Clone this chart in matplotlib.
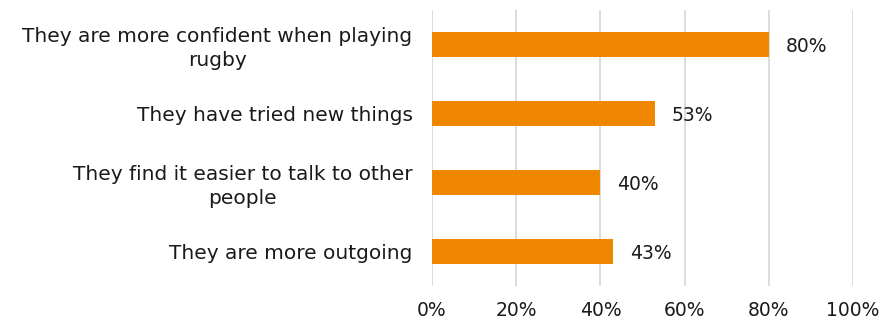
import matplotlib
matplotlib.use("Agg")
import matplotlib.pyplot as plt
from matplotlib.ticker import PercentFormatter

# Survey responses (share of respondents)
labels = [
    "They are more confident when playing\nrugby",
    "They have tried new things",
    "They find it easier to talk to other\npeople",
    "They are more outgoing",
]
values = [80, 53, 40, 43]
xticks = [0, 20, 40, 60, 80, 100]

plt.rcParams['font.family'] = ['DejaVu Sans']

fig = plt.figure(figsize=(8.84, 3.2), dpi=100)
ax = fig.add_axes([0.4887, 0.10625, 0.4763, 0.8625])

pos = list(range(len(labels)))
ax.barh(pos, values, height=0.35, color='#F08700', zorder=3)

for p, v in zip(pos, values):
    ax.text(v + 4, p + 0.03, f"{v}%", va='center', ha='left', fontsize=13.5, color='#1a1a1a')

ax.set_ylim(len(labels) - 0.5, -0.5)
ax.set_xlim(0, 100)
ax.set_yticks(pos)
ax.set_yticklabels(labels, fontsize=14.5, color='#1a1a1a', ha='right',
                   multialignment='center', linespacing=1.3)
ax.set_xticks(xticks)
ax.xaxis.set_major_formatter(PercentFormatter(decimals=0))
ax.tick_params(axis='x', labelsize=13.5, colors='#1a1a1a', length=0, pad=11)
ax.tick_params(axis='y', length=0, pad=14)

ax.grid(axis='x', color='#d9d9d9', linewidth=1.3, zorder=0)
for s in ax.spines.values():
    s.set_visible(False)

fig.savefig('out.png', dpi=100)
